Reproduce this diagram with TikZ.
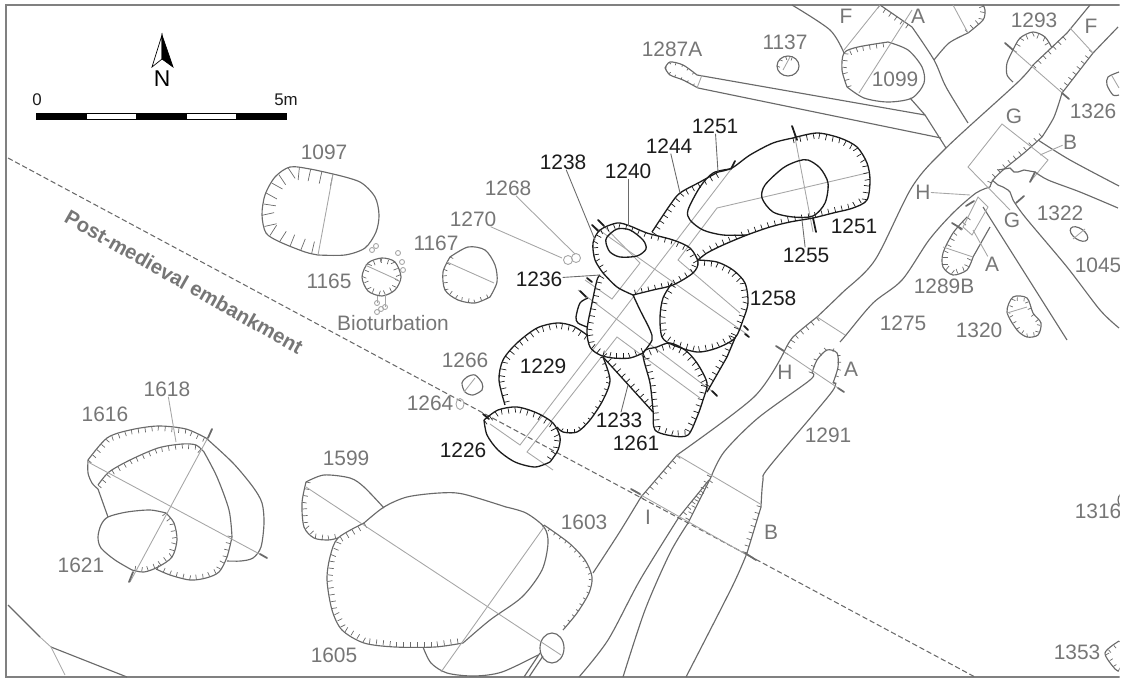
\documentclass[tikz,border=0pt]{standalone}
\usepackage{fontspec}
\setmainfont{Liberation Sans}
\usetikzlibrary{decorations.markings}
\definecolor{plangrey}{HTML}{6A6A6A}
\definecolor{labgrey}{HTML}{767676}
\definecolor{secgrey}{HTML}{A6A6A6}
\definecolor{pitblack}{HTML}{1C1C1C}
\tikzset{
 edgeline/.style={color=plangrey,line width=.65pt},
 pitline/.style={color=pitblack,line width=.75pt},
 secline/.style={draw=secgrey,line width=.5pt},
 leadgrey/.style={draw=secgrey,line width=.5pt},
 leadblack/.style={draw=plangrey,line width=.5pt},
 flagmark/.style={draw=pitblack,line width=1pt,line cap=round},
 flaggrey/.style={draw=plangrey,line width=1pt,line cap=round},
 hachR/.style={postaction={decorate,decoration={markings,mark=between positions 0 and 1 step 3.9pt with {\draw[line width=.4pt] (0,0) -- (0pt,-#1);}}}},
 hachL/.style={postaction={decorate,decoration={markings,mark=between positions 0 and 1 step 3.9pt with {\draw[line width=.4pt] (0,0) -- (0pt,#1);}}}},
 widehach/.style={postaction={decorate,decoration={markings,mark=between positions 0 and 1 step 6.5pt with {\draw[line width=.4pt] (0,0) -- (0pt,#1);}}}},
 hachR/.default=3pt, hachL/.default=3pt,
 lab/.style={text=labgrey,font=\fontsize{11.9}{13}\selectfont,inner sep=0pt},
 labk/.style={text=pitblack,font=\fontsize{11.9}{13}\selectfont,inner sep=0pt}
}
\newcommand{\hachopen}[3]{\draw[#1] plot[smooth] coordinates {#3}; \path[#1,#2] plot coordinates {#3};}
\newcommand{\hachshut}[3]{\draw[#1] plot[smooth cycle] coordinates {#3}; \path[#1,#2] plot coordinates {#3} -- cycle;}
\begin{document}
\begin{tikzpicture}[x=.02cm,y=-.02cm]
\useasboundingbox (0,0) rectangle (1124,679);
\clip (0,0) rectangle (1119.5,679);

\draw[draw=gray,line width=.8pt] (1120,5) -- (6,5) -- (6,677) -- (1120,677);
\draw[draw=plangrey,line width=.6pt,dash pattern=on 3pt off 1.6pt] (8,158) -- (975,677);

\filldraw[draw=black,fill=white,line width=.4pt] (162,35) -- (152,67) -- (162,59) -- cycle;
\filldraw[draw=black,fill=black,line width=.4pt] (162,35) -- (173,67) -- (162,59) -- cycle;
\node[text=black,font=\fontsize{13}{14}\selectfont,inner sep=0pt] (nN) at (162,79) {N};
\foreach \bx/\bc in {36/black,86/white,136/black,186/white,236/black}
  \filldraw[draw=black,fill=\bc,line width=.3pt] (\bx,113.5) rectangle ++(50,6);
\node[text=pitblack,font=\fontsize{9.6}{10}\selectfont,inner sep=0pt] (n0) at (37,100) {0};
\node[text=pitblack,font=\fontsize{9.6}{10}\selectfont,inner sep=0pt] (n5m) at (286,100) {5m};
\node[text=labgrey,font=\bfseries\fontsize{11.6}{12}\selectfont,rotate=-29.5,inner sep=0pt] (nPost) at (184,282) {Post-medieval embankment};

\hachopen{edgeline}{widehach=7pt}{(333,174) (310,169) (290,167) (275,177) (265,195) (262,215) (266,233) (280,242) (305,252) (318,255)}
\draw[edgeline] plot[smooth] coordinates {(333,174) (360,182) (375,197) (379,215) (376,232) (365,248) (345,255) (318,255)};
\draw[secline] (333,174) -- (318,255);

\hachshut{edgeline}{hachR=2.5pt}{(382,258) (395,262) (401,277) (395,290) (382,296) (368,291) (362,277) (368,263)}
\draw[secline] (365,265) -- (398,280);
\foreach \bx/\by in {372/250,376/246,398/253,402/262,403/270,377/303,381/309,377/312,385/307}
  \draw[secline] (\bx,\by) circle (2.5);
\draw[secline] (377,296) -- (377,303);
\draw[secline] (385,295) -- (385,307);

\hachopen{edgeline}{hachL=2pt}{(450,257) (443,272) (445,290) (458,300) (475,303) (490,297)}
\draw[edgeline] plot[smooth] coordinates {(450,257) (468,247) (485,250) (495,265) (497,282) (490,297)};
\draw[secline] (447,262) -- (494,283);
\draw[secline] (568,260) circle (4.5);
\draw[secline] (576,258) circle (4.5);
\draw[edgeline] plot[smooth cycle] coordinates {(467,377) (475,375) (482,383) (482,390) (473,395) (465,392) (462,383)};
\draw[secline] (464,392) -- (475,378);
\draw[secline] (460,404) ellipse (4 and 5.5);

\draw[secline] (793,127) -- (813,232);
\draw[secline] (717,208) -- (867,173);
\draw[secline] (732,168) -- (520,445) -- (490,424);
\draw[secline] (717,208) -- (678,260) -- (740,313);
\draw[secline] (592,225) -- (748,335);
\draw[secline] (598,220) -- (640,263) -- (612,299) -- (585,280);
\draw[secline] (578,290) -- (717,395);
\draw[secline] (700,398) -- (617,337) -- (527,452) -- (553,470);

\hachopen{pitline}{hachR}{(652,232) (670,205) (680,193) (700,182) (718,172)}
\draw[pitline] plot[smooth] coordinates {(718,172) (732,168) (750,155) (773,143) (793,138)};
\hachopen{pitline}{hachR}{(793,138) (817,133) (840,138) (857,147) (867,163) (870,180) (867,200) (853,208) (833,213) (813,218) (790,222) (770,227) (747,235) (723,245) (707,253) (698,260)}
\draw[pitline] plot[smooth] coordinates {(730,169) (713,173) (700,187) (688,210) (690,220) (703,230) (723,235) (747,235)};
\draw[pitline] plot[smooth cycle] coordinates {(808,160) (820,168) (828,183) (825,203) (813,216) (793,217) (773,212) (762,198) (765,185) (783,168) (798,161)};
\hachopen{pitline}{hachR=2.6pt}{(603,273) (595,260) (593,243) (600,230) (617,223) (630,226) (647,233) (673,240) (690,248) (698,262) (693,273) (673,285) (653,290) (633,295)}
\draw[pitline] plot[smooth] coordinates {(633,295) (617,287) (603,273)};
\draw[pitline] plot[smooth cycle] coordinates {(607,237) (617,229) (630,230) (643,240) (646,249) (637,256) (620,257) (610,252) (606,243)};
\draw[pitline] plot[smooth] coordinates {(633,295) (640,310) (650,330) (652,340) (643,353)};
\hachopen{pitline}{hachR}{(643,353) (630,358) (613,358) (600,355) (590,347) (587,330) (592,303) (597,280) (600,275)}
\draw[pitline] plot[smooth] coordinates {(588,298) (580,303) (576,317) (578,323) (587,327)};
\hachopen{pitline}{hachR}{(698,260) (717,262) (733,270) (745,283) (748,303) (743,320) (735,338) (717,348) (697,352) (673,345) (662,337) (660,317) (663,298) (672,283)}
\draw[pitline,hachR] (735,338) -- (727,357) -- (707,392);
\hachshut{pitline}{hachR}{(643,353) (657,347) (670,343) (685,350) (697,363) (707,383) (703,400) (697,417) (688,435) (673,436) (655,430) (653,410) (650,383)}
\draw[pitline,hachL] (603,357) -- (653,412);
\hachopen{pitline}{hachL}{(587,335) (573,326) (557,323) (537,328) (517,343) (503,360) (499,380) (505,405)}
\hachopen{pitline}{hachR=1.6pt}{(603,357) (610,380) (603,400) (590,420) (577,432) (563,432) (557,427)}
\hachopen{pitline}{hachR}{(484,420) (498,410) (517,407) (537,413) (553,423) (560,437) (558,450) (550,462)}
\draw[pitline] plot[smooth] coordinates {(550,462) (535,467) (515,462) (498,450) (487,435) (484,420)};
\foreach \ax/\ay/\bx/\by in {792/126/797/140,813/218/816/232,735/161/731/169,598/220/604/226,592/225/598/231,587/278/592/282,580/291/586/297,748/330/744/326,745/334/749/337,712/391/717/396,483/414/489/419}
  \draw[flagmark] (\ax,\ay) -- (\bx,\by);

\hachopen{edgeline}{hachR=2.6pt}{(88,460) (107,438) (130,430) (158,426) (186,429) (206,438)}
\draw[edgeline] plot[smooth] coordinates {(206,438) (233,463) (253,487) (262,503) (264,523) (261,547) (253,558) (241,561) (227,561)};
\draw[edgeline] plot[smooth] coordinates {(88,460) (88,473) (92,483) (98,489)};
\hachopen{edgeline}{hachR=2.6pt}{(98,485) (109,472) (130,460) (158,448) (182,444) (196,445) (204,452)}
\draw[edgeline] plot[smooth] coordinates {(204,452) (217,477) (229,510) (232,537)};
\hachopen{edgeline}{hachR=2.6pt}{(232,537) (227,557) (219,572) (206,578) (190,580) (170,575) (156,569)}
\draw[edgeline] (98,489) -- (108,517);
\hachopen{edgeline}{hachR=2.6pt}{(166,513) (174,523) (177,540) (172,557) (158,567) (144,572) (132,570)}
\draw[edgeline] plot[smooth] coordinates {(132,570) (115,560) (101,548) (98,537) (101,525) (108,517) (127,512) (150,510) (166,513)};
\draw[secline] (88,462) -- (267,558);
\draw[secline] (212,430) -- (130,582);
\draw[flaggrey] (208,438) -- (212,429);
\draw[flaggrey] (260,554) -- (267,558);
\draw[flaggrey] (133,572) -- (129,582);

\draw[edgeline] plot[smooth] coordinates {(306,482) (324,475) (350,478) (364,487) (384,508)};
\hachopen{edgeline}{hachL=2.6pt}{(306,482) (302,503) (304,527) (314,538) (328,540) (338,538)}
\hachopen{edgeline}{hachL=3pt}{(364,523) (338,538) (330,557) (327,580) (332,610) (342,630) (364,643) (395,647) (435,647) (463,643)}
\draw[edgeline] plot[smooth] coordinates {(364,523) (384,507) (407,497) (439,493) (463,494) (506,507)};
\draw[edgeline] plot[smooth] coordinates {(463,643) (490,620) (522,597) (542,570) (548,543) (544,527) (526,513) (506,507)};
\hachopen{edgeline}{hachR=1.5pt}{(544,525) (569,543) (585,560) (592,577) (589,593) (577,613) (563,630)}
\draw[edgeline] plot[smooth] coordinates {(423,647) (431,663) (447,673) (474,676) (502,672) (538,655)};
\draw[edgeline] (540,653) -- (524,677);
\draw[edgeline] (543,656) -- (529,677);
\draw[edgeline] (552,648) ellipse (12 and 15);
\draw[secline] (306,487) -- (561,655);
\draw[secline] (544,527) -- (441,672);

\draw[edgeline] (8,605) -- (40,637);
\draw[edgeline] (51,647) -- (127,677);
\draw[secline] (40,637) -- (51,647) -- (65,675);

\draw[edgeline] plot[smooth] coordinates {(593,573) (619,533) (641,497)};
\draw[edgeline,hachR=2.6pt] (641,497) -- (677,455);
\draw[edgeline] plot[smooth] coordinates {(677,455) (754,397) (784,352)};
\hachopen{edgeline}{hachR=2.6pt}{(784,352) (793,337) (817,317)}
\draw[edgeline] plot[smooth] coordinates {(817,317) (842,293) (875,260) (912,187) (946,148) (1017,83) (1033,65)};
\draw[edgeline,hachR=2.6pt] (1033,65) -- (1067,33);
\draw[edgeline] (1067,33) -- (1090,5);
\draw[edgeline] (1118,27) -- (1093,53);
\draw[edgeline,hachR=2.6pt] (1093,53) -- (1062,93);
\draw[edgeline] plot[smooth] coordinates {(1062,93) (1054,117) (1042,137)};
\hachopen{edgeline}{hachR=2.6pt}{(1042,137) (1024,153) (1003,170) (993,180) (990,187)}
\draw[edgeline] plot[smooth] coordinates {(990,187) (976,193) (953,213) (929,240) (902,280) (873,303) (846,335) (840,342)};
\hachopen{edgeline}{hachL=2pt}{(812,373) (817,360) (827,350) (837,353) (838,367) (833,383)}
\draw[edgeline] plot[smooth] coordinates {(833,383) (831,393) (769,467) (763,480) (761,507)};
\draw[edgeline,hachR=2.6pt] (761,507) -- (747,553);
\draw[edgeline] plot[smooth] coordinates {(747,553) (732,587) (686,677)};
\draw[edgeline] plot[smooth] coordinates {(812,373) (810,380) (758,418) (724,452) (711,477)};
\draw[edgeline,hachL=2.6pt] (709,480) -- (679,517);
\draw[edgeline,hachR=2.6pt] (711,477) -- (688,523);
\draw[edgeline] plot[smooth] coordinates {(679,517) (640,580) (608,640) (579,677)};
\draw[edgeline] plot[smooth] coordinates {(688,523) (670,553) (645,610) (623,677)};
\draw[secline] (632,490) -- (756,560);
\draw[secline] (677,455) -- (762,505);
\draw[secline] (777,347) -- (844,392);
\draw[secline] (817,317) -- (845,335);
\draw[flaggrey] (631,489) -- (640,494);
\draw[flaggrey] (745,553) -- (756,560);
\draw[flaggrey] (776,346) -- (784,351);
\draw[flaggrey] (838,388) -- (844,392);

\draw[edgeline] plot[smooth] coordinates {(792,5) (830,30) (844,53)};
\draw[edgeline,hachR=2.6pt] (880,5) -- (912,27);
\draw[edgeline] plot[smooth] coordinates {(912,27) (934,60) (946,87) (968,123)};
\draw[edgeline] plot[smooth] coordinates {(934,60) (949,43) (968,33)};
\hachopen{edgeline}{hachL=2.6pt}{(968,33) (983,20) (985,10) (983,5)}
\draw[secline] (953,5) -- (968,33);
\hachopen{edgeline}{hachR=2.6pt}{(847,87) (842,70) (844,53) (858,47) (888,42)}
\draw[edgeline] plot[smooth] coordinates {(888,42) (908,50) (922,67) (924,83) (912,98) (888,102) (864,98) (847,87)};
\draw[secline] (844,50) -- (880,5);
\draw[secline] (859,93) -- (912,10);
\draw[edgeline] (910,98) -- (925,115) -- (946,148);
\hachopen{edgeline}{hachR=1.2pt}{(665,68) (670,62) (683,65) (697,75)}
\hachopen{edgeline}{hachL=1.2pt}{(665,68) (670,75) (683,80) (698,88)}
\draw[edgeline] (697,75) -- (925,115);
\draw[edgeline] (698,88) -- (941,138);
\draw[secline] (702,75) -- (697,88);
\draw[edgeline] (788,66) ellipse (11 and 10);
\path[edgeline,hachR=1.8pt] plot coordinates {(777,66) (780,59) (788,56) (796,59)};
\draw[secline] (783,70) -- (790,57);

\hachopen{edgeline}{hachR=2.6pt}{(1013,50) (1020,38) (1033,32) (1045,37) (1052,48)}
\draw[edgeline] plot[smooth] coordinates {(1013,50) (1007,63) (1007,75) (1013,82)};
\draw[secline] (1070,28) -- (1093,53);
\draw[secline] (1013,50) -- (1068,98);
\draw[flaggrey] (1005,43) -- (1013,50);
\draw[flaggrey] (1062,93) -- (1069,99);
\draw[edgeline] plot[smooth] coordinates {(1119,72) (1108,77) (1107,85) (1113,95) (1119,95)};
\draw[secline] (1119,88) -- (1112,76);

\draw[secline] (1010,210) -- (968,167) -- (1002,124) -- (1048,160) -- (1030,182);
\draw[edgeline] (998,170) -- (1004,169) -- (1010,168) -- (1014,172) -- (1018,172) -- (1024,170) -- (1035,172);
\draw[edgeline] plot[smooth] coordinates {(1035,172) (1048,180) (1080,192) (1118,208)};
\draw[edgeline] (992,180) -- (998,185) -- (1003,187) -- (1008,190) -- (1010,192) -- (1013,200);
\draw[edgeline] plot[smooth] coordinates {(1013,200) (1025,217) (1067,267) (1100,310) (1119,328)};
\draw[edgeline] (983,207) -- (1067,340);
\draw[edgeline] plot[smooth] coordinates {(1038,140) (1070,160) (1119,186)};
\draw[flaggrey] (1030,182) -- (1035,172);
\draw[flaggrey] (1016,203) -- (1024,196);
\hachopen{edgeline}{hachL=2.6pt}{(967,217) (953,233) (943,253) (943,267) (953,275) (967,270) (973,257)}
\draw[edgeline] (973,257) -- (990,227);
\draw[secline] (963,227) -- (978,197) -- (988,207) -- (972,235) -- cycle;
\draw[secline] (943,247) -- (973,257);
\draw[flaggrey] (952,223) -- (962,229);
\draw[flaggrey] (966,206) -- (974,201);
\draw[edgeline] (1079,234) ellipse [x radius=10,y radius=5.5,rotate=-35];
\draw[secline] (1073,239) -- (1085,229);
\hachshut{edgeline}{hachR=2pt}{(1007,312) (1013,297) (1027,298) (1033,313) (1041,323) (1038,335) (1027,337) (1017,330)}
\draw[secline] (1007,313) -- (1027,307);
\draw[edgeline] (1126,500) circle (8);
\hachopen{edgeline}{hachL=2pt}{(1119,641) (1105,653) (1115,669) (1119,671)}

\node[lab] (n1097) at (324,152) {1097};
\node[lab] (n1165) at (329,281) {1165};
\node[lab] (nBio) at (393,323) {Bioturbation};
\node[lab] (n1167) at (436,243) {1167};
\node[lab] (n1270) at (473,219) {1270};
\node[lab] (n1268) at (508,188) {1268};
\node[lab] (n1266) at (465,360) {1266};
\node[lab] (n1264) at (430,403) {1264};
\node[lab] (n1287A) at (672,49) {1287A};
\node[lab] (n1137) at (785,42) {1137};
\node[lab] (n1099) at (895,79) {1099};
\node[lab] (nF1) at (846,16) {F};
\node[lab] (nA1) at (918,16) {A};
\node[lab] (n1293) at (1034,20) {1293};
\node[lab] (nF2) at (1091,26) {F};
\node[lab] (n1326) at (1093,111) {1326};
\node[lab] (nG1) at (1014,116) {G};
\node[lab] (nB1) at (1070,142) {B};
\node[lab] (nH1) at (923,192) {H};
\node[lab] (nG2) at (1012,220) {G};
\node[lab] (n1322) at (1060,213) {1322};
\node[lab] (n1045) at (1098,265) {1045};
\node[lab] (nA2) at (992,264) {A};
\node[lab] (n1289B) at (944,286) {1289B};
\node[lab] (n1275) at (903,323) {1275};
\node[lab] (n1320) at (979,330) {1320};
\node[lab] (nH2) at (785,372) {H};
\node[lab] (nA3) at (851,369) {A};
\node[lab] (n1291) at (828,435) {1291};
\node[lab] (nI) at (648,517) {I};
\node[lab] (nB2) at (771,532) {B};
\node[lab] (n1603) at (584,522) {1603};
\node[lab] (n1599) at (346,458) {1599};
\node[lab] (n1605) at (334,655) {1605};
\node[lab] (n1618) at (167,389) {1618};
\node[lab] (n1616) at (105,414) {1616};
\node[lab] (n1621) at (81,565) {1621};
\node[lab] (n1316) at (1098,511) {1316};
\node[lab] (n1353) at (1077,652) {1353};
\node[labk] (n1251a) at (715,126) {1251};
\node[labk] (n1244) at (669,146) {1244};
\node[labk] (n1238) at (563,162) {1238};
\node[labk] (n1240) at (628,171) {1240};
\node[labk] (n1251b) at (854,226) {1251};
\node[labk] (n1255) at (806,255) {1255};
\node[labk] (n1236) at (539,279) {1236};
\node[labk] (n1258) at (773,298) {1258};
\node[labk] (n1229) at (543,366) {1229};
\node[labk] (n1233) at (619,420) {1233};
\node[labk] (n1261) at (636,443) {1261};
\node[labk] (n1226) at (463,450) {1226};

\coordinate (c1270) at (562,258);
\coordinate (c1268) at (575,254);
\coordinate (c1618) at (176,442);
\coordinate (c1251) at (718,172);
\coordinate (c1244) at (680,193);
\coordinate (c1238) at (595,240);
\coordinate (c1240) at (628,226);
\coordinate (c1236) at (600,275);
\coordinate (c1255) at (802,220);
\coordinate (c1233) at (628,385);
\coordinate (cH) at (970,195);
\coordinate (cB) at (1040,155);
\coordinate (cA) at (973,230);
\draw[leadgrey] (n1270) -- (c1270);
\draw[leadgrey] (n1268) -- (c1268);
\draw[leadgrey] (n1618) -- (c1618);
\draw[leadgrey] (nH1) -- (cH);
\draw[leadgrey] (nB1) -- (cB);
\draw[leadgrey] (nA2) -- (cA);
\draw[leadblack] (n1251a) -- (c1251);
\draw[leadblack] (n1244) -- (c1244);
\draw[leadblack] (n1238) -- (c1238);
\draw[leadblack] (n1240) -- (c1240);
\draw[leadblack] (n1236) -- (c1236);
\draw[leadblack] (n1255) -- (c1255);
\draw[leadblack] (n1233) -- (c1233);
\end{tikzpicture}
\end{document}
